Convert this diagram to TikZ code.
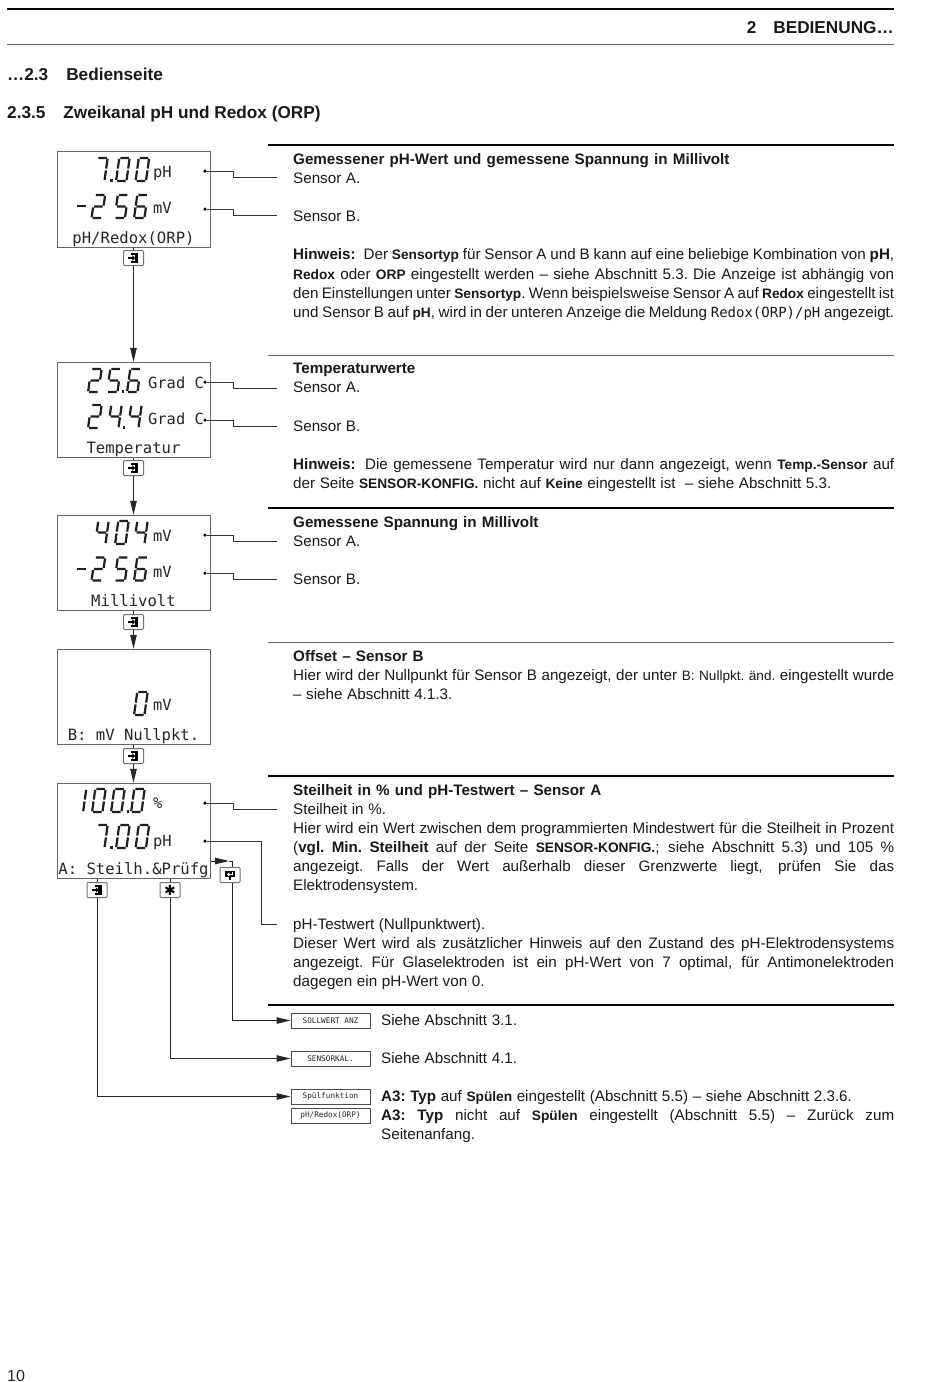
\documentclass[tikz,border=0pt]{standalone}
\usepackage{fontspec}
\setmainfont{Liberation Sans}
\newfontfamily\lcdfont{DejaVu Sans Mono}
\newfontfamily\symfont{DejaVu Sans}
\usetikzlibrary{arrows.meta,backgrounds}
\newcommand\jl[1]{\makebox[601pt][s]{#1}}
\newcommand\jm[1]{\makebox[513pt][s]{#1}}
\newcommand\kb[1]{{\fontsize{13.7}{19}\selectfont\bfseries #1}}
\newcommand\ks[1]{{\fontsize{13.6}{19}\selectfont #1}}
\newcommand\mn[1]{{\lcdfont\fontsize{14}{19}\selectfont #1}}
\newcommand\bt[1]{{\bfseries\spaceskip=5.2pt plus 3pt minus 1.5pt #1}}
% seven-segment digits
\def\sA{(2,-21.5)--(10,-21.5)}
\def\sB{(10.8,-20.7)--(10.8,-11.6)}
\def\sC{(10.8,-9.9)--(10.8,-.8)}
\def\sD{(2,0)--(10,0)}
\def\sE{(1,-9.9)--(1,-.8)}
\def\sF{(1,-20.7)--(1,-11.6)}
\def\sG{(2,-10.75)--(10,-10.75)}
\expandafter\def\csname dg0\endcsname{\draw[lcdseg] \sA \sB \sC \sD \sE \sF;}
\expandafter\def\csname dg1\endcsname{\draw[lcdseg] \sF \sE;}
\expandafter\def\csname dg2\endcsname{\draw[lcdseg] \sA \sB \sG \sE \sD;}
\expandafter\def\csname dg4\endcsname{\draw[lcdseg] \sF \sG \sB \sC;}
\expandafter\def\csname dg5\endcsname{\draw[lcdseg] \sA \sF \sG \sC \sD;}
\expandafter\def\csname dg6\endcsname{\draw[lcdseg] \sA \sF \sG \sC \sD \sE;}
\expandafter\def\csname dg7\endcsname{\draw[lcdseg] \sA \sB \sC;}
\newcommand\lcd[3]{\begin{scope}[shift={(#1,#2)},xslant=0.14,xscale=1.06,yscale=1.07]\csname dg#3\endcsname\end{scope}}
\newcommand\lcddot[2]{\fill[black!85] (#1,#2) rectangle ++(2.6,-2.6);}
\newcommand\lcdminus[2]{\draw[lcdseg] (#1,#2)--++(9,0);}
% key icons
\newcommand\enterkey[1]{\begin{scope}[shift={(#1)}]
 \draw[black,line width=1.7pt] (-2.5,-3.8)--(3.8,-3.8)--(3.8,3.8)--(-2.5,3.8);
 \fill[black] (1,-3.8) rectangle (3.8,3.8);
 \draw[black,line width=1.3pt] (-5.5,0)--(0,0);
 \fill[black] (-1.2,-2.8)--(1.6,0)--(-1.2,2.8)--cycle;
\end{scope}}
\newcommand\returnkey[1]{\begin{scope}[shift={(#1)}]
 \fill[black] (-5,-4.5) rectangle (5,2);
 \draw[white,line width=1.1pt] (2.8,-3.2)--(2.8,-0.6)--(-2,-0.6);
 \draw[white,line width=1pt] (-0.6,-2.2)--(-2.4,-0.6)--(-0.6,1);
 \draw[black,line width=1.6pt] (0,2)--(0,5);
\end{scope}}
\tikzset{
 lcdseg/.style={line width=2.2pt,draw=black!88},
 display/.style={draw=black!60,line width=.9pt,fill=white,minimum width=153pt,minimum height=95.5pt,inner sep=0},
 unitlab/.style={font=\lcdfont\fontsize{15.4}{18}\selectfont,inner sep=0,anchor=base west,text=black!85},
 lcdlab/.style={font=\lcdfont\fontsize{15.6}{18}\selectfont,inner sep=0,anchor=base,text=black!85},
 keybox/.style={draw=black!55,line width=1pt,fill=white,rounded corners=1pt,minimum width=20pt,minimum height=15pt,inner sep=0},
 menubox/.style={draw=black!70,line width=.9pt,fill=white,minimum width=79pt,minimum height=15pt,inner sep=0,font=\lcdfont\fontsize{7.7}{9}\selectfont,text=black!85},
 pin/.style={circle,fill=black,minimum size=3.5pt,inner sep=0},
 lead/.style={draw=black!80,line width=1pt},
 flow/.style={draw=black!85,line width=1pt,-{Triangle[length=14pt,width=6.5pt]}},
 plainflow/.style={draw=black!85,line width=1pt},
 para/.style={anchor=north west,inner sep=0,align=left,text width=601pt,font=\fontsize{15.2}{19.15}\selectfont,text=black!90,
   execute at begin node={\spaceskip=4.6pt plus 3pt minus 1.6pt\xspaceskip=\spaceskip}},
 parb/.style={para,text width=513pt},
 head/.style={font=\bfseries\fontsize{17.2}{20}\selectfont,inner sep=0,anchor=base west,text=black!90},
 bar/.style={draw=black,line width=1.2pt},
 hair/.style={draw=black!60,line width=.8pt},
}
\begin{document}
\begin{tikzpicture}[x=1pt,y=-1pt]
\useasboundingbox (0,0) rectangle (950,1382);
% page furniture
\coordinate (r0a) at (7,9);\coordinate (r0b) at (894,9);
\coordinate (r1a) at (7,44);\coordinate (r1b) at (894,44);
\draw[bar] (r0a)--(r0b);
\draw[hair] (r1a)--(r1b);
\node[head,anchor=base east] (chap) at (894,33) {2\hspace{17pt}BEDIENUNG…};
\node[head] (sec) at (7,80) {…2.3\hspace{18pt}Bedienseite};
\node[head] (subsec) at (7,118) {2.3.5\hspace{18pt}Zweikanal pH und Redox (ORP)};
\node[inner sep=0,anchor=base west,font=\fontsize{16}{18}\selectfont,text=black!85] (pageno) at (7,1381) {10};
% section rules
\foreach \y/\s in {145/bar,355/hair,508/bar,642/hair,776/bar,1005/bar}{\draw[\s] (268,\y)--(894,\y);}
% displays
\node[display] (d1) at (133.5,199.5) {};
\node[display] (d2) at (133.5,410) {};
\node[display] (d3) at (133.5,563) {};
\node[display] (d4) at (133.5,697) {};
\node[display] (d5) at (133.5,831) {};
\node[lcdlab] (l1) at (133.5,243) {pH/Redox(ORP)};
\node[lcdlab] (l2) at (133.5,453) {Temperatur};
\node[lcdlab] (l3) at (133.5,606) {Millivolt};
\node[lcdlab] (l4) at (133.5,740) {B: mV Nullpkt.};
\node[lcdlab] (l5) at (133.5,874) {A: Steilh.\&Prüfg};
\node[unitlab] (u1a) at (153,177) {pH};
\node[unitlab] (u1b) at (153,213) {mV};
\node[unitlab] (u2a) at (148,388) {Grad C};
\node[unitlab] (u2b) at (148,424) {Grad C};
\node[unitlab] (u3a) at (153,541) {mV};
\node[unitlab] (u3b) at (153,577) {mV};
\node[unitlab] (u4b) at (153,710) {mV};
\node[unitlab] (u5a) at (153,808) {\%};
\node[unitlab] (u5b) at (153,846) {pH};
% digits
\lcd{93}{181}{7}\lcddot{110}{182}\lcd{115}{181}{0}\lcd{134.5}{181}{0}
\lcdminus{77}{206}\lcd{90.5}{218}{2}\lcd{113.5}{218}{5}\lcd{133}{218}{6}
\lcd{87}{392}{2}\lcd{106}{392}{5}\lcddot{121.5}{393}\lcd{126}{392}{6}
\lcd{87}{428}{2}\lcd{107}{428}{4}\lcddot{122.5}{429}\lcd{127}{428}{4}
\lcd{94}{544}{4}\lcd{114}{544}{0}\lcd{133}{544}{4}
\lcdminus{77}{569}\lcd{90.5}{580.5}{2}\lcd{113.5}{580.5}{5}\lcd{133}{580.5}{6}
\lcd{133}{715}{0}
\lcd{82}{812}{1}\lcd{91}{812}{0}\lcd{110}{812}{0}\lcddot{126.5}{813}\lcd{130}{812}{0}
\lcd{93}{848}{7}\lcddot{110}{849}\lcd{115}{848}{0}\lcd{134.5}{848}{0}
% keys
\node[keybox] (k1) at (133.5,258) {};
\node[keybox] (k2) at (133.5,468) {};
\node[keybox] (k3) at (133.5,622) {};
\node[keybox] (k4) at (133.5,756) {};
\node[keybox] (k5a) at (97,890) {};
\node[keybox,font=\symfont\bfseries\fontsize{14}{14}\selectfont] (k5b) at (170,890) {✱};
\node[keybox] (k5c) at (230,875) {};
\enterkey{k1}\enterkey{k2}\enterkey{k3}\enterkey{k4}\enterkey{k5a}\returnkey{k5c}
% menu targets
\node[menubox] (m1) at (330.5,1020.5) {SOLLWERT ANZ};
\node[menubox] (m2) at (330.5,1058.5) {SENSORKAL.};
\node[menubox] (m3) at (330.5,1096.5) {Spülfunktion};
\node[menubox] (m4) at (330.5,1115.5) {pH/Redox(ORP)};
% pins and leaders
\node[pin] (p1a) at (205,171) {};\coordinate (e1a) at (277,177);
\node[pin] (p1b) at (205,209) {};\coordinate (e1b) at (277,215);
\node[pin] (p2a) at (205,382) {};\coordinate (e2a) at (277,388);
\node[pin] (p2b) at (205,420) {};\coordinate (e2b) at (277,426);
\node[pin] (p3a) at (205,535) {};\coordinate (e3a) at (277,541);
\node[pin] (p3b) at (205,573) {};\coordinate (e3b) at (277,579);
\node[pin] (p5a) at (205,803) {};\coordinate (e5a) at (277,809);
\node[pin] (p5b) at (205,841) {};\coordinate (e5b) at (277,924);
\foreach \n in {1a,1b,2a,2b,3a,3b,5a}{\draw[lead] (p\n) -- ++(28,0) |- (e\n);}
\draw[lead] (p5b) -- (261,841) |- (e5b);
\begin{pgfonlayer}{background}
\draw[plainflow] (d1) -- (k1);\draw[flow] (k1) -- (d2);
\draw[plainflow] (d2) -- (k2);\draw[flow] (k2) -- (d3);
\draw[plainflow] (d3) -- (k3);\draw[flow] (k3) -- (d4);
\draw[plainflow] (d4) -- (k4);\draw[flow] (k4) -- (d5);
\draw[plainflow] (k5a |- d5.south) -- (k5a);
\draw[flow] (k5a) |- (m3);
\draw[plainflow] (k5b |- d5.south) -- (k5b);
\draw[flow] (k5b) |- (m2);
\coordinate (t5c) at (232,861);
\draw[flow] (d5.east |- t5c) -- (229,861);
\draw[plainflow] (229,861) -- (t5c) -- (t5c |- k5c.north);
\draw[flow] (t5c |- k5c.south) |- (m1);
\end{pgfonlayer}
% text blocks
\node[para] (t1) at (293,153) {\bt{Gemessener pH-Wert und gemessene Spannung in Millivolt}\\
Sensor A.\\ \mbox{}\\ Sensor B.\\ \mbox{}\\
\jl{\textbf{Hinweis:}\hspace{4pt} Der \kb{Sensortyp} für Sensor A und B kann auf eine beliebige Kombination von \textbf{pH},}\\
\jl{\kb{Redox} oder \kb{ORP} eingestellt werden – siehe Abschnitt 5.3. Die Anzeige ist abhängig von}\\
\jl{den Einstellungen unter \kb{Sensortyp}. Wenn beispielsweise Sensor A auf \kb{Redox} eingestellt ist}\\
\jl{und Sensor B auf \kb{pH}, wird in der unteren Anzeige die Meldung \mn{Redox(ORP)/pH} angezeigt.}};
\node[para] (t2) at (293,363) {\bt{Temperaturwerte}\\
Sensor A.\\ \mbox{}\\ Sensor B.\\ \mbox{}\\
\jl{\textbf{Hinweis:}\hspace{4pt} Die gemessene Temperatur wird nur dann angezeigt, wenn \kb{Temp.-Sensor} auf}\\
der Seite \kb{SENSOR-KONFIG.} nicht auf \kb{Keine} eingestellt ist \ – siehe Abschnitt 5.3.};
\node[para] (t3) at (293,516) {\bt{Gemessene Spannung in Millivolt}\\
Sensor A.\\ \mbox{}\\ Sensor B.};
\node[para] (t4) at (293,650) {\bt{Offset – Sensor B}\\
\jl{Hier wird der Nullpunkt für Sensor B angezeigt, der unter \ks{B: Nullpkt. änd.} eingestellt wurde}\\
– siehe Abschnitt 4.1.3.};
\node[para] (t5) at (293,784) {\bt{Steilheit in \% und pH-Testwert – Sensor A}\\
Steilheit in \%.\\
\jl{Hier wird ein Wert zwischen dem programmierten Mindestwert für die Steilheit in Prozent}\\
\jl{(\textbf{vgl. Min. Steilheit} auf der Seite \kb{SENSOR-KONFIG.}; siehe Abschnitt 5.3) und 105 \%}\\
\jl{angezeigt. Falls der Wert außerhalb dieser Grenzwerte liegt, prüfen Sie das}\\
Elektrodensystem.\\ \mbox{}\\
pH-Testwert (Nullpunktwert).\\
\jl{Dieser Wert wird als zusätzlicher Hinweis auf den Zustand des pH-Elektrodensystems}\\
\jl{angezeigt. Für Glaselektroden ist ein pH-Wert von 7 optimal, für Antimonelektroden}\\
dagegen ein pH-Wert von 0.};
\node[parb] (t6) at (381,1014) {Siehe Abschnitt 3.1.};
\node[parb] (t7) at (381,1052) {Siehe Abschnitt 4.1.};
\node[parb] (t8) at (381,1090) {\textbf{A3: Typ} auf \kb{Spülen} eingestellt (Abschnitt 5.5) – siehe Abschnitt 2.3.6.\\
\jm{\textbf{A3: Typ} nicht auf \kb{Spülen} eingestellt (Abschnitt 5.5) – Zurück zum}\\
Seitenanfang.};
\end{tikzpicture}
\end{document}
